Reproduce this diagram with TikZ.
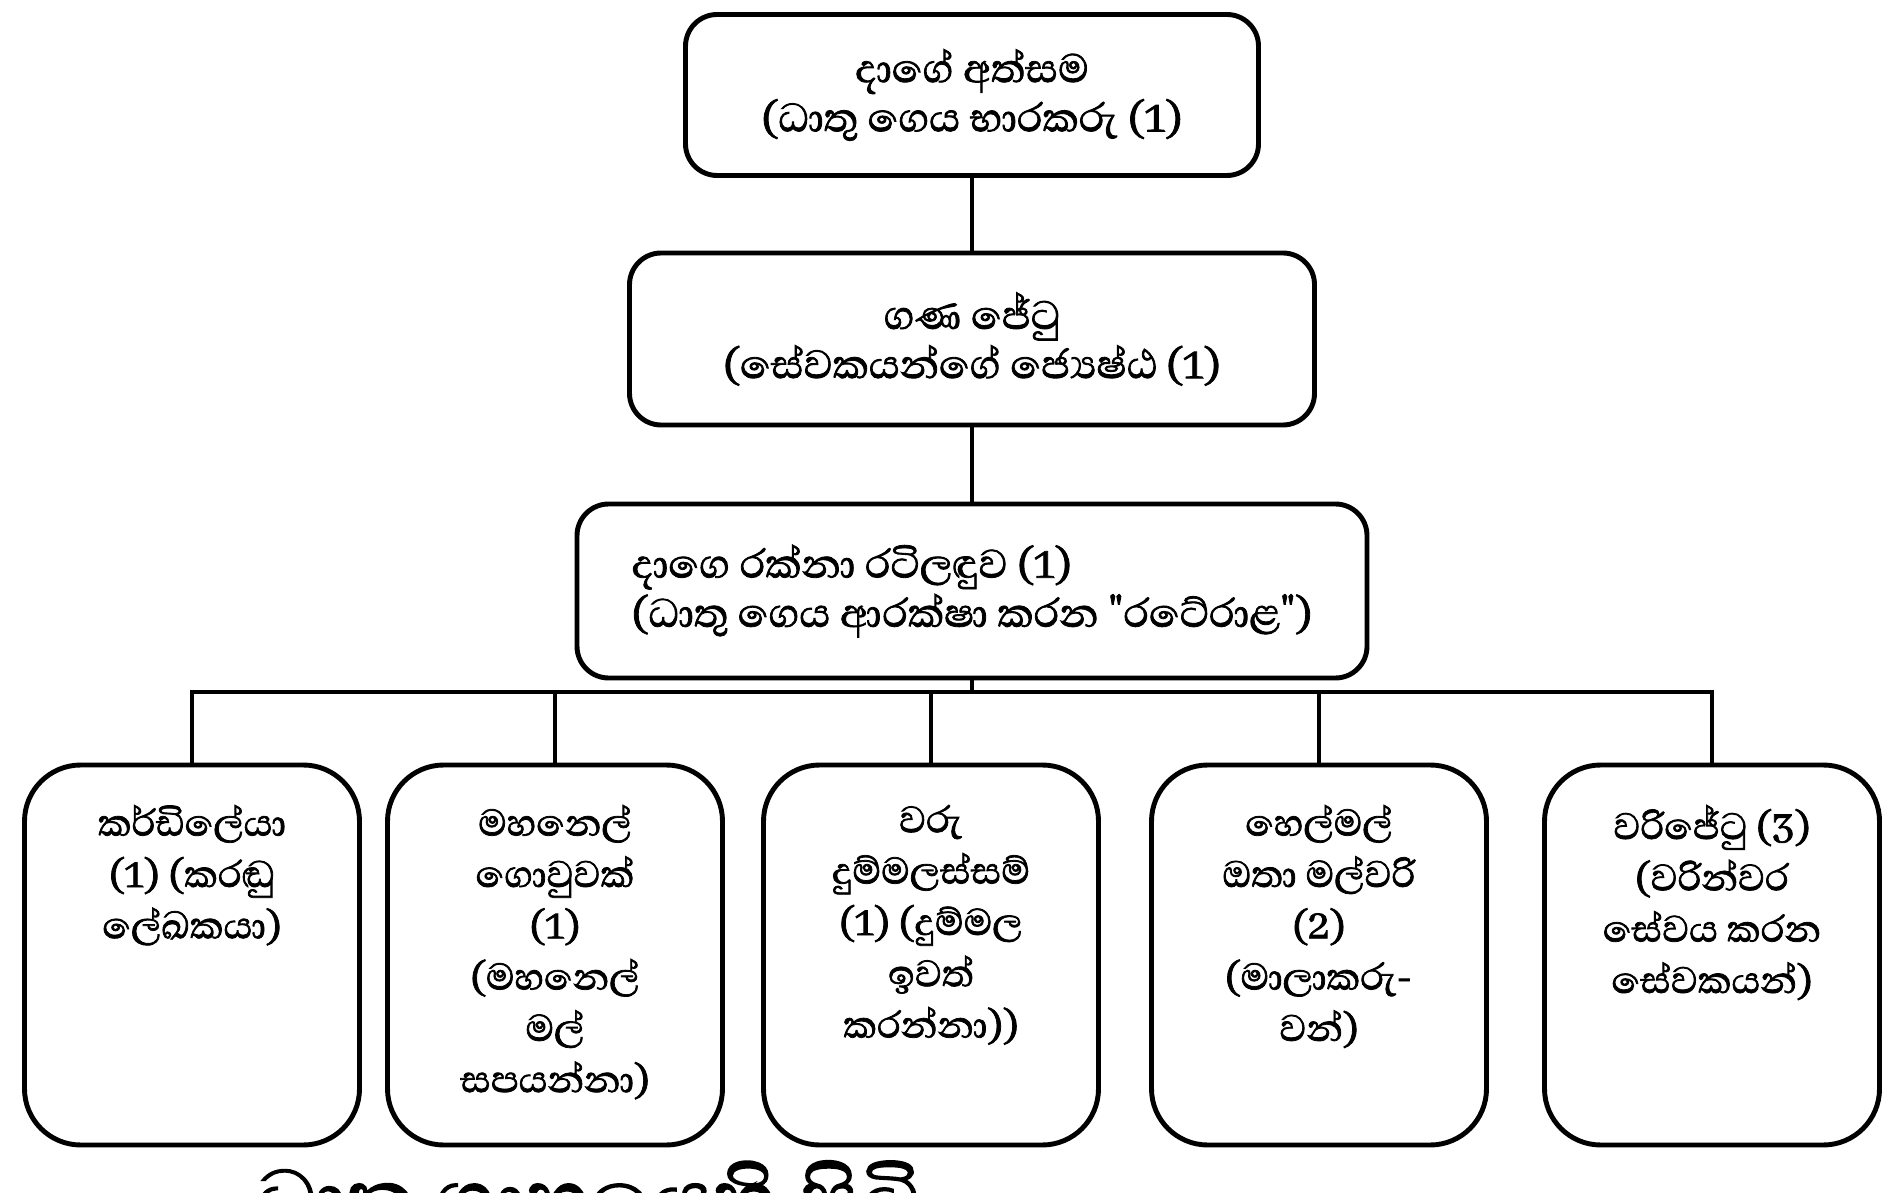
\documentclass[tikz,border=0pt]{standalone}
\usepackage{fontspec}
\newfontfamily\sinfont[Script=Sinhala, FakeBold=1.6]{Abhaya Libre}
\usetikzlibrary{positioning}
\tikzset{
	headbox/.style={draw, line width=1.4pt, rounded corners=9pt, align=center, inner sep=4pt, font=\sinfont\fontsize{14.5}{14}\selectfont},
	staffbox/.style={draw, line width=1.4pt, rounded corners=16pt, minimum width=3.35cm, minimum height=3.8cm},
	stafftext/.style={anchor=north, align=center, font=\sinfont\fontsize{13.5}{14.6}\selectfont},
	link/.style={line width=1.3pt}
}

\begin{document}
\begin{tikzpicture}
			%%%%% START %%%%%
			\useasboundingbox (0, 0) rectangle (18.91, -11.93);
			
			\node[headbox, minimum width=5.73cm, minimum height=1.61cm] (hall) at (9.72, -0.95) {දාගේ අත්සම\\(ධාතු ගෙය භාරකරු (1)};
			\node[headbox, minimum width=6.85cm, minimum height=1.72cm] (jetu) at (9.72, -3.39) {ගණ ජේටු\\(සේවකයන්ගේ ජ්‍යෙෂ්ඨ (1)};
			\node[headbox, align=left, minimum width=7.90cm, minimum height=1.74cm] (guard) at (9.72, -5.91) {දාගෙ රක්නා රටිලඳුව (1)\\(ධාතු ගෙය ආරක්ෂා කරන "රටේරාළ")};
			
			\draw[link] (hall) -- (jetu);
			\draw[link] (jetu) -- (guard);
			\coordinate (bus) at (9.72, -6.92);
			\draw[link] (guard) -- (bus);
			
			\node[staffbox] (s1) at (1.92, -9.55) {};
			\node[staffbox] (s2) at (5.55, -9.55) {};
			\node[staffbox] (s3) at (9.31, -9.55) {};
			\node[staffbox] (s4) at (13.19, -9.55) {};
			\node[staffbox] (s5) at (17.12, -9.55) {};
			
			\draw[link] (s1.north) |- (s5.north |- bus) -- (s5.north);
			\foreach \b in {s2, s3, s4}
				\draw[link] (\b.north) -- (\b.north |- bus);
			
			\node[stafftext] (t1) at ([yshift=-0.3cm]s1.north) {කර්ඩිලේයා\\(1) (කරඬු\\ලේඛකයා)};
			\node[stafftext] (t2) at ([yshift=-0.3cm]s2.north) {මහනෙල්\\ගොවුවක්\\(1)\\(මහනෙල්\\මල්\\සපයන්නා)};
			\node[stafftext] (t3) at ([yshift=-0.3cm]s3.north) {වරු\\දුම්මලස්සම්\\(1) (දුම්මල\\ඉවත්\\කරන්නා))};
			\node[stafftext] (t4) at ([yshift=-0.3cm]s4.north) {හෙල්මල්\\ඔතා මල්වරි\\(2)\\(මාලාකරු-\\වන්)};
			\node[stafftext] (t5) at ([yshift=-0.3cm]s5.north) {වරිජේටු (3)\\(වරින්වර\\සේවය කරන\\සේවකයන්)};
			
			\node[anchor=north west, inner sep=0pt, font=\sinfont\fontsize{29}{32}\selectfont] (caption) at (2.55, -11.6) {ධාතු ගෘහයෙහි සිටි};
			%%%%% END %%%%%
\end{tikzpicture}
\end{document}
